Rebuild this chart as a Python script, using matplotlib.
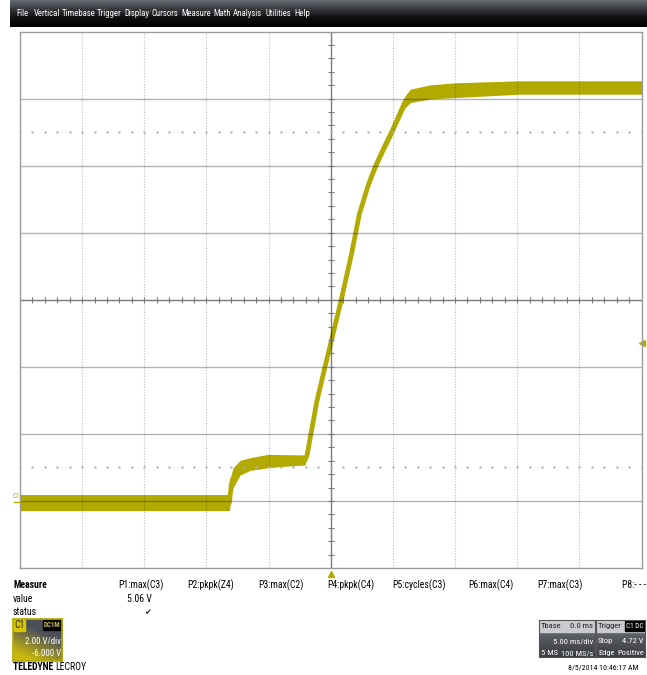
import numpy as np
import matplotlib
matplotlib.use('Agg')
import matplotlib.pyplot as plt
from matplotlib.patches import Rectangle
from matplotlib import font_manager as fm

# =========================
# Datos (C1, ms / V)
# =========================
t_ms = [-25.0, -8.15, -8.0, -7.86, -7.3, -6.5, -5.05, -3.5, -2.07, -1.9,
        -1.13, -0.46, 0.88, 1.69, 2.30, 3.0, 3.56, 4.3, 4.90, 5.5,
        5.97, 6.4, 8.0, 10.0, 15.2, 25.0]
v_mid = [-0.05, -0.05, 0.5, 0.69, 0.99, 1.1, 1.19, 1.21, 1.22, 1.37,
         2.95, 4.0, 6.05, 7.4, 8.55, 9.4, 9.95, 10.55, 11.0, 11.5,
         11.9, 12.08, 12.2, 12.25, 12.33, 12.33]
v_half = [0.24, 0.24, 0.3, 0.3, 0.22, 0.19, 0.2, 0.17, 0.15, 0.1,
          0.1, 0.1, 0.1, 0.1, 0.1, 0.12, 0.14, 0.14, 0.14, 0.15,
          0.18, 0.2, 0.21, 0.22, 0.2, 0.2]

menu_items = ['File', 'Vertical', 'Timebase', 'Trigger', 'Display', 'Cursors',
              'Measure', 'Math', 'Analysis', 'Utilities', 'Help']
menu_x = [16, 34, 62, 97, 124, 152, 181, 213, 233, 266, 294]

param_labels = ['P1:max(C3)', 'P2:pkpk(Z4)', 'P3:max(C2)', 'P4:pkpk(C4)',
                'P5:cycles(C3)', 'P6:max(C4)', 'P7:max(C3)', 'P8:- - -']
param_x = [118, 187, 258, 327, 392, 468, 537, 622]

trig_level = 4.72
volts_div = 2.0
offset = -6.0
time_div = 5.0

TRACE = '#b2aa00'
W, H = 647, 675


# =========================
# Fuente estrecha (como la del osciloscopio)
# =========================
def rank(f):
    n = f.name
    st = str(f.stretch).lower()
    if 'Liberation Sans Narrow' in n:
        return 0
    if 'Arial Narrow' in n:
        return 0
    if 'Roboto Condensed' in n:
        return 1
    if 'Condensed' in n or 'Narrow' in n or 'condensed' in st:
        if 'Mono' in n or 'Serif' in n or 'CJK' in n:
            return 9
        if 'extra' in st or 'ultra' in st:
            return 3
        return 2
    return 9


def pick(bold):
    best = None
    for f in fm.fontManager.ttflist:
        r = rank(f)
        if r == 9:
            continue
        w = f.weight if isinstance(f.weight, int) else (700 if 'bold' in str(f.weight).lower() else 400)
        if bold != (w >= 600):
            continue
        if 'italic' in str(f.style).lower() or 'oblique' in str(f.style).lower():
            continue
        if best is None or r < best[0]:
            best = (r, f)
    if best is None:
        return fm.FontProperties(family='Liberation Sans',
                                 weight='bold' if bold else 'normal'), False
    return fm.FontProperties(fname=best[1].fname), True


FP, narrow_ok = pick(False)
FPB, _ = pick(True)
FS = 7.0 if narrow_ok else 6.0
FS_MENU = FS - 0.7
FS_BOX = FS - 0.9


def px(x, y):
    return x / W, 1 - y / H


def txt(x, y, s, bold=False, size=None, **kw):
    fp = (FPB if bold else FP).copy()
    fp.set_size(size if size else FS)
    kw.setdefault('va', 'center')
    return fig.text(*px(x, y), s, fontproperties=fp, **kw)


plt.close('all')
fig = plt.figure(figsize=(W / 100, H / 100), dpi=100)
fig.patch.set_facecolor('white')

# =========================
# Barra de menu
# =========================
axm = fig.add_axes([10 / W, 1 - 27.5 / H, 1 - 10 / W, 27.5 / H])
grad = np.linspace(0, 1, 64).reshape(-1, 1)
axm.imshow(grad, aspect='auto', cmap=matplotlib.colors.LinearSegmentedColormap.from_list(
    'bar', ['#6d7179', '#3a3c40', '#101010', '#000000']), extent=[0, 1, 0, 1])
axm.set_axis_off()
for name, x in zip(menu_items, menu_x):
    txt(x, 14, name, size=FS_MENU, color='white')

# =========================
# Reticula (encima de la traza, semitransparente)
# =========================
ax = fig.add_axes([20 / W, 1 - 568 / H, 621.5 / W, 536.5 / H])
ylo = -offset - 4 * volts_div
yhi = -offset + 4 * volts_div
ax.set_xlim(-5 * time_div, 5 * time_div)
ax.set_ylim(ylo, yhi)
ax.set_xticks([])
ax.set_yticks([])
for s in ax.spines.values():
    s.set_color('#9a9a9a')
    s.set_linewidth(1.0)
    s.set_zorder(5)

GRID = (0, 0, 0, 0.3)
for v in np.arange(ylo + volts_div, yhi, volts_div):
    if abs(v + offset) > 1e-6:
        ax.axhline(v, color=GRID, lw=1.0, zorder=4)
for t in np.arange(-20, 25, time_div):
    if t != 0:
        ax.axvline(t, color=(0, 0, 0, 0.28), lw=0.8, ls=(0, (1, 1.5)), zorder=4)
ax.axhline(-offset, color=(0, 0, 0, 0.52), lw=1.0, zorder=4)
ax.axvline(0, color=(0, 0, 0, 0.52), lw=1.0, zorder=4)
minor_t = np.arange(-25, 25.01, 1.0)
minor_v = np.arange(ylo, yhi + 0.01, 0.4)
ax.plot(minor_t, np.full_like(minor_t, -offset), ls='none', marker='|', ms=5,
        mew=0.8, color='#7a7a7a', zorder=4)
ax.plot(np.zeros_like(minor_v), minor_v, ls='none', marker='_', ms=5,
        mew=0.8, color='#7a7a7a', zorder=4)
for v in (-offset - 2.5 * volts_div, -offset + 2.5 * volts_div):
    ax.plot(minor_t, np.full_like(minor_t, v), ls='none', marker='s', ms=0.7,
            color='#b4b4b4', zorder=4)

# =========================
# Traza C1
# =========================
t = np.array(t_ms)
vm = np.array(v_mid)
vh = np.array(v_half)
ax.fill_between(t, vm - vh, vm + vh, color=TRACE, lw=0, zorder=3)
ax.plot(t, vm, color=TRACE, lw=3.4, solid_joinstyle='round', zorder=3)

# marcadores de disparo y tierra
ax.plot([1.0], [trig_level], transform=ax.get_yaxis_transform(), marker='<',
        ms=4, color=TRACE, clip_on=False)
ax.plot([0], [-0.012], transform=ax.get_xaxis_transform(), marker='^',
        ms=4, color=TRACE, clip_on=False)
txt(12.5, 496, 'C1', size=5, color=TRACE)
fig.add_artist(plt.Line2D([14 / W, 20 / W], [1 - 501.5 / H] * 2,
                          color=TRACE, lw=1.0))

# =========================
# Mediciones
# =========================
txt(13, 585, 'Measure', bold=True)
txt(13, 599, 'value')
txt(13, 612, 'status')
for lab, x in zip(param_labels, param_x):
    txt(x, 585, lab)
txt(152, 599, '5.06 V', ha='right')
fig.text(*px(151, 612), '\u2714', fontsize=6, family=['DejaVu Sans'],
         va='center', ha='right', color='#333333')

# =========================
# Caja C1
# =========================
axc = fig.add_axes([13 / W, 1 - 661 / H, 49 / W, 42 / H])
yy, xx = np.mgrid[0:1:60j, 0:1:70j]
glow = np.clip(1.3 * yy - 0.7 * xx, 0, 1)
dark = np.array([0.30, 0.31, 0.35])
yel = np.array([0.78, 0.72, 0.05])
img = dark[None, None, :] * (1 - glow[..., None]) + yel[None, None, :] * glow[..., None]
axc.imshow(img, aspect='auto', extent=[0, 1, 0, 1])
axc.set_xticks([])
axc.set_yticks([])
for s in axc.spines.values():
    s.set_color(TRACE)
    s.set_linewidth(1.2)
axc.add_patch(Rectangle((0, 0.72), 0.24, 0.28, color='#d8c800',
                        transform=axc.transAxes))
axc.add_patch(Rectangle((0.62, 0.75), 0.36, 0.22, color='#000000',
                        transform=axc.transAxes))
txt(14.5, 625, 'C1', color='#222222')
txt(51.5, 625, 'DC1M', size=5, bold=True, ha='center', color='#c8c060')
txt(61, 641, '%.2f V/div' % volts_div, size=FS_BOX + 0.3, ha='right', color='white')
txt(61, 654, '%.3f V' % offset, size=FS_BOX + 0.3, ha='right', color='white')

lec = txt(13, 667, 'TELEDYNE ', bold=True)
fig.canvas.draw()
bb = lec.get_window_extent()
txt(bb.x1, 667, 'LECROY')

# =========================
# Cajas Tbase / Trigger
# =========================
def info_box(x0, x1):
    a = fig.add_axes([x0 / W, 1 - 657 / H, (x1 - x0) / W, 37 / H])
    g = np.linspace(0, 1, 40).reshape(-1, 1)
    a.imshow(g, aspect='auto', extent=[0, 1, 0, 1], cmap=matplotlib.colors.LinearSegmentedColormap.from_list(
        'box', ['#7a7d84', '#55585e', '#3a3c40']))
    a.add_patch(Rectangle((0, 0.68), 1, 0.32, color='#c9cbcf',
                          transform=a.transAxes))
    a.set_xticks([])
    a.set_yticks([])
    for s in a.spines.values():
        s.set_color('#555555')
        s.set_linewidth(0.8)
    return a


info_box(539, 594.5)
txt(541, 626, 'Tbase', size=FS_BOX, color='#222222')
txt(593, 626, '0.0 ms', size=FS_BOX, ha='right', color='#222222')
txt(593, 641, '%.2f ms/div' % time_div, size=FS_BOX, ha='right', color='white')
txt(541, 653, '5 MS', size=FS_BOX, color='white')
txt(593, 653, '100 MS/s', size=FS_BOX, ha='right', color='white')

atr = info_box(596, 645)
atr.add_patch(Rectangle((0.6, 0.7), 0.38, 0.27, color='black',
                        transform=atr.transAxes))
txt(598, 626, 'Trigger', size=FS_BOX, color='#222222')
txt(634.5, 626, 'C1 DC', size=5.2, ha='center', color='white')
txt(598, 641, 'Stop', size=FS_BOX, color='white')
txt(644, 641, '%.2f V' % trig_level, size=FS_BOX, ha='right', color='white')
txt(598, 653, 'Edge', size=FS_BOX, color='white')
txt(644, 653, 'Positive', size=FS_BOX, ha='right', color='white')

txt(638, 668, '8/5/2014 10:46:17 AM', size=FS - 1.3, ha='right')

fig.savefig('out.png', dpi=100)
